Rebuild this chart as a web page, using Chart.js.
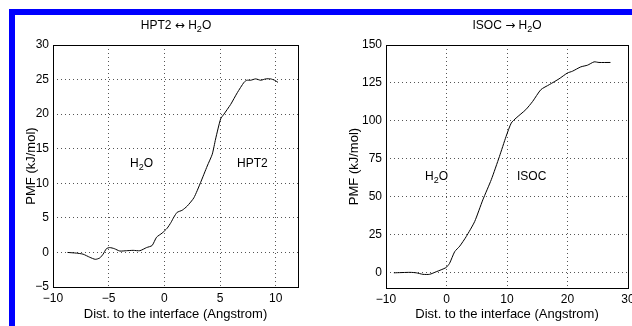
<!DOCTYPE html>
<html><head><meta charset="utf-8">
<script src="https://cdn.jsdelivr.net/npm/chart.js@4.4.1/dist/chart.umd.min.js"></script>
<style>
html,body{margin:0;padding:0;background:#fff;overflow:hidden;width:632px;height:326px;}
body{position:relative;font-family:"Liberation Sans",Arial,sans-serif;}
canvas{position:absolute;top:0;}
.t{position:absolute;font-size:12px;line-height:12px;white-space:nowrap;color:#000;}
.t sub{font-size:9px;line-height:0;vertical-align:-3px;}
.ttl{width:200px;text-align:center;}
.ar{font-family:"DejaVu Sans",sans-serif;}
.blue{position:absolute;background:#0000ff;}
</style></head><body>
<canvas id="left" width="316" height="326" style="left:0"></canvas>
<canvas id="right" width="344" height="326" style="left:316px"></canvas>
<div class="blue" style="left:9px;top:9px;width:623px;height:6px"></div>
<div class="blue" style="left:9px;top:9px;width:6px;height:317px"></div>
<div class="t ttl" style="left:76px;top:19px">HPT2 <span class="ar">&#8596;</span> H<sub>2</sub>O</div>
<div class="t ttl" style="left:407px;top:19px">ISOC <span class="ar">&#8594;</span> H<sub>2</sub>O</div>
<div class="t" style="left:130px;top:157px">H<sub>2</sub>O</div>
<div class="t" style="left:237px;top:157px">HPT2</div>
<div class="t" style="left:425px;top:170px">H<sub>2</sub>O</div>
<div class="t" style="left:517px;top:170px">ISOC</div>
<script>
// HPT2 <-> H2O
const hptX=[-8.7,-7.9,-7.3,-6.7,-6.2,-5.8,-5.5,-5.2,-4.9,-4.5,-4.0,-3.4,-2.8,-2.2,-1.6,-1.1,-0.7,-0.2,0.25,0.6,0.85,1.15,1.6,2.05,2.65,3.25,3.85,4.3,4.6,5.05,5.35,5.95,6.55,7.15,7.4,7.75,8.2,8.65,9.1,9.55,9.9,10.2];
const hptY=[0,-0.1,-0.25,-0.7,-1.0,-0.8,-0.25,0.55,0.7,0.55,0.2,0.25,0.3,0.25,0.7,1.0,2.2,2.8,3.5,4.35,5.1,5.8,6.1,6.7,7.9,10.1,12.5,14.2,16.4,19.3,20.0,21.4,23.1,24.6,24.9,24.9,25.1,24.9,25.1,25.1,24.9,24.6];
const hptXTicks=[-10,-5,0,5,10];
const hptYTicks=[-5,0,5,10,15,20,25,30];

// ISOC -> H2O
const isocX=[-8.7,-6.0,-5.0,-3.9,-2.8,-1.7,-0.1,0.5,1.35,2.2,3.25,4.65,6.0,7.4,8.75,9.85,10.7,11.5,13.1,14.25,15.6,17.0,18.6,20.0,20.8,22.2,23.3,24.4,25.2,27.1];
const isocY=[0,0.3,0,-1.0,-1.0,0.7,3.4,6.2,13.9,17.6,23.8,33.7,48,61.3,76.6,89.8,98.6,101.9,107.4,112.9,120.6,123.9,127.7,131.6,132.7,135.6,136.7,138.9,138.5,138.5];
const isocXTicks=[-10,0,10,20,30];
const isocYTicks=[0,25,50,75,100,125,150];

const FAM='"Liberation Sans", Arial, sans-serif';
const frame={id:'frame',afterDraw(c){
  const a=c.chartArea,ctx=c.ctx;
  ctx.save();ctx.strokeStyle='#000';ctx.lineWidth=1;
  ctx.strokeRect(Math.round(a.left)+0.5,Math.round(a.top)+0.5,Math.round(a.width),Math.round(a.height));
  ctx.restore();
}};
const minus=v=>String(v).replace('-','\u2212');

function axis(min,max,ticks,title,titlePad,fit){
  return {type:'linear',min,max,
    afterBuildTicks:s=>{s.ticks=ticks.map(v=>({value:v}));},
    afterFit:fit,
    grid:{color:'#555',drawTicks:false},
    border:{display:false,dash:[1,3]},
    ticks:{font:{family:FAM,size:12},color:'#000',padding:4,callback:minus},
    title:{display:true,text:title,font:{family:FAM,size:13},color:'#000',padding:titlePad}};
}

function makeChart(id,xs,ys,xr,yr,xt,yt,yw,ytPad,padRight,xh){
  new Chart(document.getElementById(id),{
    type:'line',
    data:{datasets:[{data:xs.map((x,i)=>({x,y:ys[i]})),borderColor:'#000',borderWidth:1,pointRadius:0,tension:0.2,fill:false}]},
    options:{responsive:false,animation:false,devicePixelRatio:1,
      layout:{padding:{left:0,top:45,right:padRight,bottom:0}},
      plugins:{legend:{display:false},tooltip:{enabled:false}},
      scales:{
        x:axis(xr[0],xr[1],xt,'Dist. to the interface (Angstrom)',{top:0,bottom:4},s=>{s.height=xh;}),
        y:axis(yr[0],yr[1],yt,'PMF (kJ/mol)',{top:ytPad,bottom:0},s=>{s.width=yw;})
      }},
    plugins:[frame]
  });
}

makeChart('left',hptX,hptY,[-10,12],[-5,30],hptXTicks,hptYTicks,53,24,18,39);
makeChart('right',isocX,isocY,[-10,30],[-10,150],isocXTicks,isocYTicks,70,31,32,38);
</script>
</body></html>
